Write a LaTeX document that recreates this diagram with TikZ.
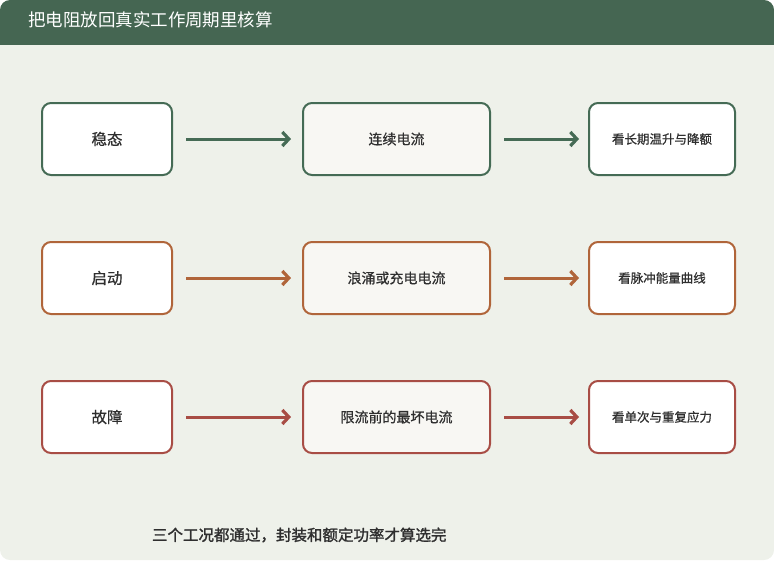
\documentclass[tikz,border=0pt]{standalone}
\usepackage{fontspec}
\setmainfont{Noto Sans CJK SC}
\newfontfamily\boxfont[FakeBold=0.8]{Noto Sans CJK SC}
\newfontfamily\notefont[FakeBold=1.6]{Noto Sans CJK SC}
\usetikzlibrary{arrows.meta}
\definecolor{bgpanel}{HTML}{EEF1EA}
\definecolor{headgreen}{HTML}{456652}
\definecolor{steadyc}{HTML}{456B55}
\definecolor{startc}{HTML}{B0653A}
\definecolor{faultc}{HTML}{A84D45}
\definecolor{softfill}{HTML}{F8F7F3}
\definecolor{inktext}{HTML}{2F2F2F}

\begin{document}
\begin{tikzpicture}[x=1pt, y=-1pt,
      every node/.style = {shape=rectangle, rounded corners=9pt,
        line width=2pt, align=center, text=inktext,
        minimum height=72pt, inner sep=0pt},
      casebox/.style = {draw=#1, fill=white, minimum width=130pt,
        font=\boxfont\fontsize{15.5}{18}\selectfont},
      currbox/.style = {draw=#1, fill=softfill, minimum width=187pt,
        font=\boxfont\fontsize{14}{17}\selectfont},
      checkbox/.style = {draw=#1, fill=white, minimum width=146pt,
        font=\boxfont\fontsize{12.5}{15}\selectfont},
      flow/.style = {draw=#1, line width=3pt,
        -{Straight Barb[length=6.5pt, width=14pt, line width=3.2pt]}}]
  % panel and header
  \fill[bgpanel, rounded corners=10pt] (0,0) rectangle (774,560);
  \fill[headgreen, rounded corners=10pt] (0,0) rectangle (774,56);
  \fill[bgpanel] (0,45) rectangle (774,57);
  \node[draw=none, rounded corners=0pt, minimum height=0pt, anchor=west,
    text=white, font=\fontsize{17.5}{20}\selectfont] (title) at (27,20)
    {把电阻放回真实工作周期里核算};
  % rows
  \node[casebox=steadyc] (steady) at (107,139) {稳态};
  \node[currbox=steadyc] (steadycur) at (396.5,139) {连续电流};
  \node[checkbox=steadyc] (steadychk) at (662,139) {看长期温升与降额};
  \node[casebox=startc] (start) at (107,278) {启动};
  \node[currbox=startc] (startcur) at (396.5,278) {浪涌或充电电流};
  \node[checkbox=startc] (startchk) at (662,278) {看脉冲能量曲线};
  \node[casebox=faultc] (fault) at (107,417) {故障};
  \node[currbox=faultc] (faultcur) at (396.5,417) {限流前的最坏电流};
  \node[checkbox=faultc] (faultchk) at (662,417) {看单次与重复应力};
  \draw[flow=steadyc] ([xshift=13pt]steady.east) -- ([xshift=-11pt]steadycur.west);
  \draw[flow=steadyc] ([xshift=13pt]steadycur.east) -- ([xshift=-9pt]steadychk.west);
  \draw[flow=startc] ([xshift=13pt]start.east) -- ([xshift=-11pt]startcur.west);
  \draw[flow=startc] ([xshift=13pt]startcur.east) -- ([xshift=-9pt]startchk.west);
  \draw[flow=faultc] ([xshift=13pt]fault.east) -- ([xshift=-11pt]faultcur.west);
  \draw[flow=faultc] ([xshift=13pt]faultcur.east) -- ([xshift=-9pt]faultchk.west);
  % footer
  \node[draw=none, rounded corners=0pt, minimum height=0pt, anchor=west,
    font=\notefont\fontsize{15.5}{18}\selectfont] (verdict) at (151,535)
    {三个工况都通过，封装和额定功率才算选完};
\end{tikzpicture}
\end{document}
